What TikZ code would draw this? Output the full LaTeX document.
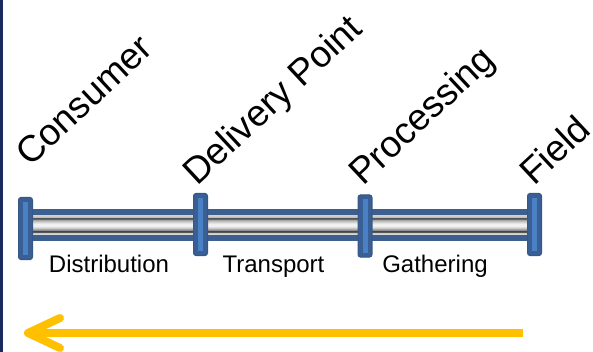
\documentclass[tikz,border=0pt]{standalone}
\usepackage{fontspec}
\setmainfont{Liberation Sans}
\definecolor{navy}{HTML}{1C2B5E}
\definecolor{pipeblue}{HTML}{3C5F90}
\definecolor{flangeblue}{HTML}{3A5F95}
\definecolor{flangeedge}{HTML}{355888}
\definecolor{flangestripe}{HTML}{4A80C4}
\definecolor{arrowcol}{HTML}{FFC000}
\pgfdeclareverticalshading{pipeshade}{100bp}{%
  color(0bp)=(black!14);
  color(25bp)=(black!14);
  color(30bp)=(black!22);
  color(32bp)=(black!72);
  color(35bp)=(black!72);
  color(37bp)=(black!45);
  color(42bp)=(black!23);
  color(47bp)=(black!7);
  color(52.5bp)=(black!4);
  color(58bp)=(black!15);
  color(65bp)=(black!37);
  color(67bp)=(black!62);
  color(70bp)=(black!68);
  color(72.5bp)=(black!22);
  color(75bp)=(black!20);
  color(100bp)=(black!20)}
\tikzset{
  flange/.style={draw=flangeedge, line width=1.2pt, fill=flangeblue,
    rounded corners=2.5pt, minimum width=13.8pt, minimum height=62pt, inner sep=0pt},
  stripe/.style={fill=flangestripe, minimum width=5pt, minimum height=53pt, inner sep=0pt},
  toplabel/.style={font=\fontsize{37}{43}\selectfont, anchor=base west, rotate=43, inner sep=0pt},
  seglabel/.style={font=\fontsize{24}{28}\selectfont, anchor=base, inner sep=0pt},
  flow/.style={draw=arrowcol, line width=8pt}
}
\begin{document}
\begin{tikzpicture}[x=1pt,y=-1pt]
\useasboundingbox (0,0) rectangle (593,352);
\fill[white] (0,0) rectangle (593,352);
\fill[navy] (0,0) rectangle (3,352);
% flange positions
\coordinate (c1) at (25.5,228.5);
\coordinate (c2) at (200.5,224.5);
\coordinate (c3) at (365,226);
\coordinate (c4) at (534.5,224.5);
\coordinate (ptop) at (0,209.5);
\coordinate (pbot) at (0,241);
\coordinate (itop) at (0,216);
\coordinate (ibot) at (0,234.5);
% pipe segments
\foreach \a/\b in {c1/c2,c2/c3,c3/c4}{
  \fill[pipeblue] (\a |- ptop) rectangle (\b |- pbot);
  \shade[shading=pipeshade] (\a |- itop) rectangle (\b |- ibot);
}
% flanges
\foreach \i in {1,2,3,4}{
  \node[flange] (f\i) at (c\i) {};
  \node[stripe] (s\i) at (f\i.center) {};
}
% labels
\node[toplabel] (consumer) at (30,168) {Consumer};
\node[toplabel] (delivery) at (197,187) {Delivery Point};
\node[toplabel] (processing) at (363,187) {Processing};
\node[toplabel] (field) at (534,187) {Field};
\node[seglabel] (dist) at (109,272) {Distribution};
\node[seglabel] (trans) at (273.5,272) {Transport};
\node[seglabel] (gath) at (435,272) {Gathering};
% flow arrow
\coordinate (astart) at (523,333);
\coordinate (atip) at (28,333);
\coordinate (aup) at (60,318);
\coordinate (alow) at (60,348);
\draw[flow] (astart) -- ([xshift=2pt]atip);
\draw[flow, line cap=round, line join=round] (aup) -- (atip) -- (alow);
\end{tikzpicture}
\end{document}
